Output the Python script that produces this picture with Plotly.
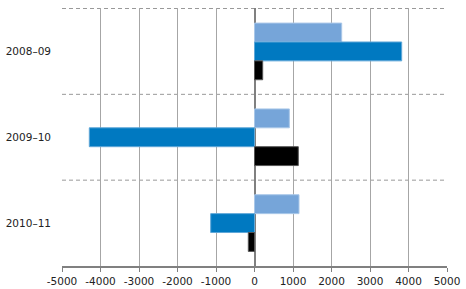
import plotly.graph_objects as go

categories = ["2008–09", "2009–10", "2010–11"]
series_a = [2265, 905, 1156]     # light blue
series_b = [3823, -4291, -1138]  # blue
series_c = [213, 1138, -161]     # black
tick_vals = [-5000, -4000, -3000, -2000, -1000, 0, 1000, 2000, 3000, 4000, 5000]
tick_text = ["-5000", "-4000", "-3000", "-2000", "-1000", "0", "1000", "2000", "3000", "4000", "5000"]

fig = go.Figure()
for vals, col, line in [(series_a, "#76A5D9", "#A9C7E8"), (series_b, "#0079C1", "#5FA7D8"), (series_c, "#000000", "#555555")]:
    fig.add_trace(go.Bar(y=categories, x=vals, orientation="h",
                         marker=dict(color=col, line=dict(color=line, width=1))))

for yb in [-0.5, 0.5, 1.5]:
    fig.add_shape(type="line", xref="paper", x0=0, x1=1, y0=yb, y1=yb,
                  line=dict(color="#999999", width=1, dash="4px,3px"), layer="below")

fig.update_layout(
    width=466, height=289, margin=dict(l=62, r=19, t=8, b=23),
    plot_bgcolor="white", paper_bgcolor="white", showlegend=False,
    barmode="group", bargap=0.34, bargroupgap=0,
    font=dict(family="DejaVu Sans", size=10.5, color="#222222"),
    xaxis=dict(range=[-5000, 5000], tickvals=tick_vals, ticktext=tick_text, showgrid=True,
               gridcolor="#A6A6A6", automargin=False,
               gridwidth=1, zeroline=True, zerolinecolor="#808080", zerolinewidth=2,
               showline=True, linecolor="#808080", linewidth=2, ticks="outside",
               ticklen=4, tickcolor="#808080"),
    yaxis=dict(autorange="reversed", showgrid=False, showline=False, ticks="", automargin=False,
               ticklabelstandoff=10),
)
fig.write_html("out.html")
